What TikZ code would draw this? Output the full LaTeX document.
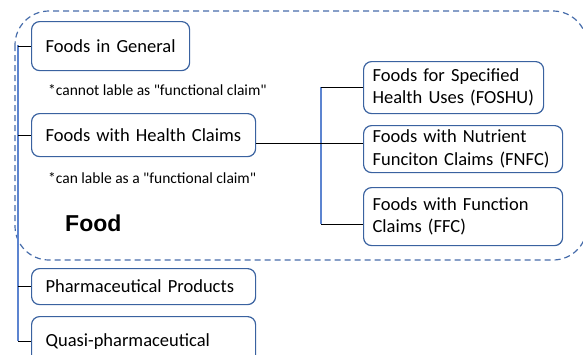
\documentclass[tikz,border=0pt]{standalone}
\usepackage{fontspec}
\setmainfont{Carlito}[Ligatures=TeXOff]
\newfontfamily\foodfont{Liberation Sans}
\definecolor{boxblue}{RGB}{58,98,160}
\definecolor{dashblue}{RGB}{70,108,170}
\definecolor{trunkblue}{RGB}{92,132,208}
\tikzset{
    catbox/.style={draw=boxblue, line width=1.2pt, rounded corners=8pt, anchor=north west, align=left, inner xsep=14pt, inner ysep=0pt, font=\fontsize{18.5}{22.5}\selectfont}, % 分类方框
    subbox/.style={catbox, inner xsep=9pt}, % 右侧子类方框
    note/.style={anchor=west, inner sep=0pt, font=\fontsize{15.5}{18}\selectfont}, % 注释文字
    tick/.style={black, line width=1pt}, % 短连线
    trunk/.style={trunkblue, line width=1.2pt} % 竖直主线
}
\begin{document}
\begin{tikzpicture}[x=1pt, y=-1pt]
    \def\W{583} \def\H{354}
    \useasboundingbox (0,0) rectangle (\W,\H);
    \clip (0,0) rectangle (\W,\H);

    \draw[dashblue, line width=1.2pt, dash pattern=on 6pt off 4pt, rounded corners=34pt] (15,11) rectangle (587,260);

    \node[catbox, align=center, text width=130pt, minimum height=49pt] (gen) at (31,21) {Foods in General};
    \node[catbox, text width=196pt, minimum height=43pt] (hc) at (31,113) {Foods with Health Claims};
    \node[catbox, text width=196pt, minimum height=36pt] (pharma) at (31,268) {Pharmaceutical Products};
    \node[catbox, text width=196pt, minimum height=50pt] (quasi) at (31,316) {Quasi-pharmaceutical};

    \node[subbox, text width=162pt, minimum height=52pt] (foshu) at (363,61) {Foods for Specified\\Health Uses (FOSHU)};
    \node[subbox, text width=181pt, minimum height=47pt] (fnfc) at (363,125) {Foods with Nutrient\\Funciton Claims (FNFC)};
    \node[subbox, text width=181pt, minimum height=58pt] (ffc) at (363,187) {Foods with Function\\Claims (FFC)};

    \node[note] (nogen) at (48,90) {*cannot lable as "functional claim"};
    \node[note] (nohc) at (48,178) {*can lable as a "functional claim"};
    \node[anchor=west, inner sep=0pt, font=\foodfont\bfseries\fontsize{23}{28}\selectfont] (food) at (65,223) {Food};

    \coordinate (trunktop) at (18,45); \coordinate (trunkbot) at (18,341);
    \coordinate (subtop) at (321,87); \coordinate (subbot) at (321,224);
    \coordinate (branch) at (321,143.5);

    \draw[trunk] (trunktop) -- (trunkbot);
    \draw[trunk] (subtop) -- (subbot);
    \foreach \n in {gen,hc,pharma,quasi} {\draw[tick] (trunktop |- \n.west) -- (\n.west);}
    \draw[tick] (subtop) -- (foshu.west |- subtop);
    \draw[tick] (subbot) -- (ffc.west |- subbot);
    \draw[tick] (hc.east |- branch) -- (fnfc.west |- branch);
\end{tikzpicture}
\end{document}
